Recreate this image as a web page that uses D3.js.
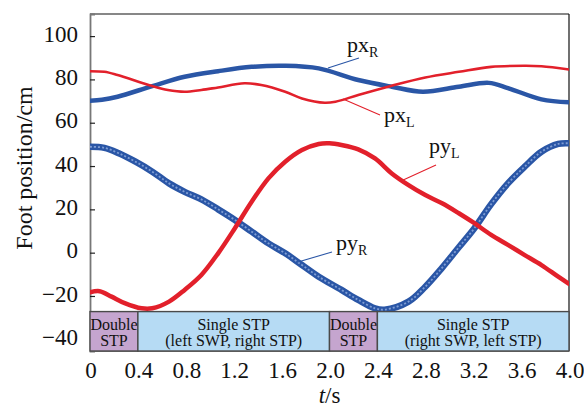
<!DOCTYPE html>
<html><head><meta charset="utf-8">
<script src="https://cdn.jsdelivr.net/npm/d3@7"></script>
<style>
html,body{margin:0;padding:0;background:#fff;}
svg{display:block;font-family:"Liberation Serif","Times New Roman",serif;}
</style></head>
<body>
<svg id="chart" width="584" height="407"></svg>
<script>
// ---- data ----
const pxR_t = [0, 0.1, 0.23, 0.52, 0.79, 1.07, 1.35, 1.63, 1.91, 2.24, 2.52, 2.78, 3.08, 3.33, 3.49, 3.77, 4.0];
const pxR_v = [70.2, 70.6, 72, 76.9, 81.2, 83.8, 85.8, 86.3, 85.1, 79.7, 76.6, 74.3, 76.6, 78.4, 76.0, 70.8, 69.4];

const pxL_t = [0, 0.12, 0.23, 0.52, 0.65, 0.79, 0.93, 1.07, 1.29, 1.43, 1.63, 1.77, 1.96, 2.05, 2.24, 2.52, 2.80, 3.08, 3.35, 3.63, 3.77, 4.0];
const pxL_v = [83.8, 83.5, 82, 76.9, 75.1, 74.3, 75.1, 76.3, 78.2, 77.4, 74.3, 71.2, 69.2, 69.7, 72.8, 77.1, 80.9, 83.5, 85.8, 86.3, 86.1, 84.6];

const pyR_t = [0, 0.12, 0.24, 0.38, 0.52, 0.66, 0.79, 0.93, 1.07, 1.21, 1.35, 1.49, 1.63, 1.77, 1.91, 2.10, 2.24, 2.38, 2.46, 2.66, 2.80, 2.94, 3.08, 3.21, 3.35, 3.49, 3.63, 3.77, 3.91, 4.0];
const pyR_v = [48.9, 48.4, 45.9, 42, 37.4, 32, 28.1, 24.6, 20, 15.1, 9.7, 4.3, -0.3, -5.7, -11.1, -17.2, -21.8, -25.7, -26.3, -22.6, -15.7, -7.0, 2.5, 11.3, 22.4, 32, 39.7, 46.6, 50.2, 50.5];

const pyL_t = [0, 0.08, 0.18, 0.29, 0.43, 0.52, 0.66, 0.79, 0.93, 1.07, 1.21, 1.35, 1.49, 1.63, 1.77, 1.91, 2.0, 2.10, 2.24, 2.38, 2.52, 2.66, 2.80, 2.94, 3.08, 3.21, 3.35, 3.49, 3.63, 3.77, 3.91, 4.0];
const pyL_v = [-18.3, -17.8, -20.3, -23.3, -25.7, -25.7, -22.6, -17.2, -10.3, -0.3, 11.3, 23.5, 34.3, 42, 47.4, 50.2, 50.5, 49.7, 47.7, 43.5, 36.6, 31.2, 26.6, 22.8, 18.2, 13.6, 8.2, 3.6, -1.1, -5.7, -11.1, -14.4];

const phaseStart = [0, 0.4, 2.0, 2.4];
const phaseEnd   = [0.4, 2.0, 2.4, 4.0];
const phaseKind  = ["double", "single", "double", "single"];
const phaseLine1 = ["Double", "Single STP", "Double", "Single STP"];
const phaseLine2 = ["STP", "(left SWP, right STP)", "STP", "(right SWP, left STP)"];
const phaseBottom = -27.2; // value at top of phase band

const xTicks = [0, 0.4, 0.8, 1.2, 1.6, 2.0, 2.4, 2.8, 3.2, 3.6, 4.0];
const xTickLabels = ["0", "0.4", "0.8", "1.2", "1.6", "2.0", "2.4", "2.8", "3.2", "3.6", "4.0"];
const yTicks = [-40, -20, 0, 20, 40, 60, 80, 100];
const yTickLabels = ["\u221240", "\u221220", "0", "20", "40", "60", "80", "100"];

// ---- layout ----
const svg = d3.select("#chart");
const L = 90, R = 569, T = 14, B = 351;
const x = d3.scaleLinear().domain([0, 4]).range([L, R]);
const y = d3.scaleLinear().domain([-45.4, 110.2]).range([B, T]);

const BLUE = "#2a56a6", RED = "#e2202b";

// frame
svg.append("line").attr("x1", L).attr("x2", R).attr("y1", T).attr("y2", T).attr("stroke", "#111").attr("stroke-width", 1.2);
svg.append("line").attr("x1", R).attr("x2", R).attr("y1", T).attr("y2", B).attr("stroke", "#111").attr("stroke-width", 1.2);
svg.append("line").attr("x1", L).attr("x2", R).attr("y1", B).attr("y2", B).attr("stroke", "#555").attr("stroke-width", 1.5);

// y axis (inward ticks)
const yAxis = d3.axisRight(y).tickValues(yTicks).tickSize(5).tickFormat("");
const yg = svg.append("g").attr("transform", `translate(${L},0)`).call(yAxis);
yg.select(".domain").attr("stroke", "#777").attr("stroke-width", 1.8);
yg.selectAll(".tick line").attr("stroke", "#222").attr("stroke-width", 1.2);

svg.append("g").selectAll("text").data(yTicks).join("text")
  .attr("x", 78).attr("y", d => y(d) + 5.6)
  .attr("text-anchor", "end").attr("font-size", 23).attr("fill", "#111")
  .text((d, i) => yTickLabels[i]);

// x tick labels
svg.append("g").selectAll("text").data(xTicks).join("text")
  .attr("x", d => x(d) + 1).attr("y", 378)
  .attr("text-anchor", "middle").attr("font-size", 23).attr("fill", "#111")
  .text((d, i) => xTickLabels[i]);

// axis titles
svg.append("text").attr("transform", "translate(32,168) rotate(-90)")
  .attr("text-anchor", "middle").attr("font-size", 24).attr("fill", "#111")
  .text("Foot position/cm");
const xt = svg.append("text").attr("x", x(2)).attr("y", 403)
  .attr("text-anchor", "middle").attr("font-size", 23).attr("fill", "#111");
xt.append("tspan").attr("font-style", "italic").text("t");
xt.append("tspan").text("/s");

// curves
const clip = svg.append("clipPath").attr("id", "clip").append("rect")
  .attr("x", L).attr("y", T).attr("width", R - L).attr("height", B - T);
const lineGen = d3.line().x(d => x(d[0])).y(d => y(d[1])).curve(d3.curveCatmullRom.alpha(0.5));
const zipS = (t, v) => t.map((tt, i) => [tt, v[i]]);
const g = svg.append("g").attr("clip-path", "url(#clip)");

// pyR: circles -> thick blue with lighter core
g.append("path").attr("d", lineGen(zipS(pyR_t, pyR_v))).attr("fill", "none")
  .attr("stroke", BLUE).attr("stroke-width", 6.5).attr("stroke-linecap", "round");
g.append("path").attr("d", lineGen(zipS(pyR_t, pyR_v))).attr("fill", "none")
  .attr("stroke", "#7f9dd4").attr("stroke-width", 1.8).attr("stroke-dasharray", "2,2");
// pxR: plus markers -> medium thick blue
g.append("path").attr("d", lineGen(zipS(pxR_t, pxR_v))).attr("fill", "none")
  .attr("stroke", BLUE).attr("stroke-width", 4.5).attr("stroke-linecap", "round");
// pyL: triangles -> thick red
g.append("path").attr("d", lineGen(zipS(pyL_t, pyL_v))).attr("fill", "none")
  .attr("stroke", RED).attr("stroke-width", 4.5).attr("stroke-linecap", "round");
// pxL: thin red
g.append("path").attr("d", lineGen(zipS(pxL_t, pxL_v))).attr("fill", "none")
  .attr("stroke", RED).attr("stroke-width", 2.6).attr("stroke-linecap", "round");

// phase band
const band = svg.append("g");
band.selectAll("rect").data(phaseStart).join("rect")
  .attr("x", (d) => x(d)).attr("y", y(phaseBottom))
  .attr("width", (d, i) => x(phaseEnd[i]) - x(d)).attr("height", B - y(phaseBottom))
  .attr("fill", (d, i) => phaseKind[i] === "double" ? "#c5a5cf" : "#b6dbf4")
  .attr("stroke", "#4a4a4a").attr("stroke-width", 1.4);
band.selectAll("text.l1").data(phaseStart).join("text").attr("class", "l1")
  .attr("x", (d, i) => (x(d) + x(phaseEnd[i])) / 2).attr("y", 329.5)
  .attr("text-anchor", "middle").attr("font-size", 16).attr("fill", "#111")
  .text((d, i) => phaseLine1[i]);
band.selectAll("text.l2").data(phaseStart).join("text").attr("class", "l2")
  .attr("x", (d, i) => (x(d) + x(phaseEnd[i])) / 2).attr("y", 345.5)
  .attr("text-anchor", "middle").attr("font-size", 16).attr("fill", "#111")
  .text((d, i) => phaseLine2[i]);

// annotations
function label(xp, yp, main, sub, color, lx1, ly1, lx2, ly2) {
  svg.append("line").attr("x1", lx1).attr("y1", ly1).attr("x2", lx2).attr("y2", ly2)
    .attr("stroke", color).attr("stroke-width", 1.1);
  const t = svg.append("text").attr("x", xp).attr("y", yp).attr("font-size", 22).attr("fill", "#111");
  t.append("tspan").text(main);
  t.append("tspan").attr("font-size", 14).attr("dy", 5).text(sub);
}
label(347, 52, "px", "R", BLUE, 328, 68, 359, 58);
label(384, 122, "px", "L", RED, 343, 99, 380, 115);
label(429, 153, "py", "L", RED, 401, 181, 436, 165);
label(336, 250, "py", "R", BLUE, 298, 262, 332, 252);
</script>
</body></html>
